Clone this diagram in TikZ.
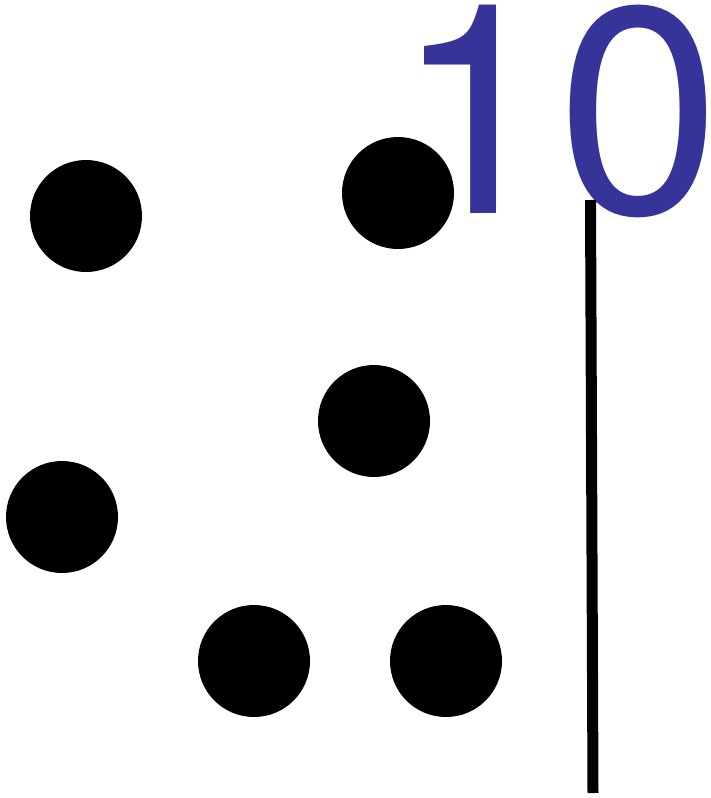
\documentclass[tikz,border=0pt]{standalone}
\usepackage{fontspec}
\newfontfamily\numfont{TeX Gyre Heros}
\definecolor{numblue}{HTML}{363399}
\begin{document}
\begin{tikzpicture}[x=1pt,y=-1pt,
  dot/.style={circle,fill=black,minimum size=112pt,inner sep=0pt},
  bar/.style={line width=11pt}]
\useasboundingbox (0,0) rectangle (710,798);
\node[anchor=base west,inner sep=0pt,text=numblue,font=\numfont\fontsize{294pt}{294pt}\selectfont] (num) at (394,213) {10};
\node[dot] (d1) at (86,216) {};
\node[dot] (d2) at (398,193) {};
\node[dot] (d3) at (374,421) {};
\node[dot] (d4) at (62,517) {};
\node[dot] (d5) at (254,661) {};
\node[dot] (d6) at (446,661) {};
\coordinate (ltop) at (590.5,200);
\coordinate (lbot) at (593,793);
\draw[bar] (ltop) -- (lbot);
\end{tikzpicture}
\end{document}
